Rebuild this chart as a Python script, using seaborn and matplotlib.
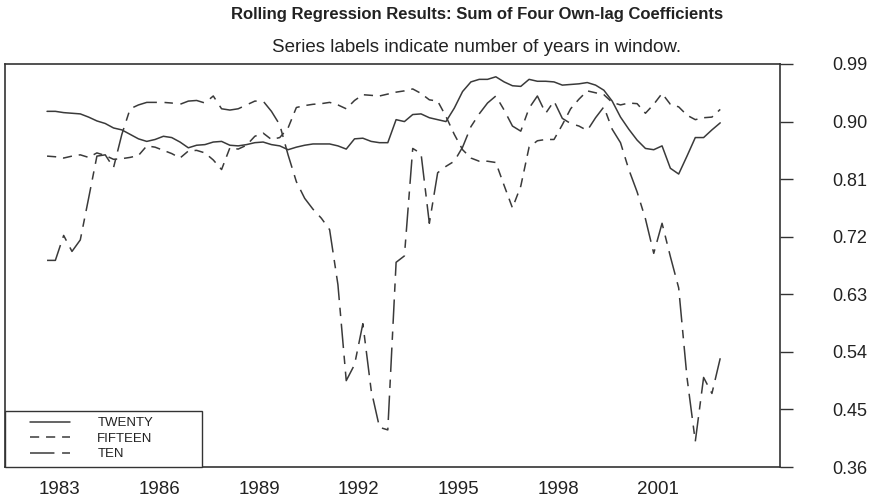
import numpy as np
import pandas as pd
import matplotlib
matplotlib.use('Agg')
import matplotlib.pyplot as plt
import seaborn as sns
from matplotlib.lines import Line2D
from matplotlib.legend_handler import HandlerLine2D

# quarterly observations, 1983Q1 - 2003Q2 (plotted at mid-quarter)
quarters = pd.period_range('1983Q1', '2003Q2', freq='Q')
t = quarters.year + (quarters.quarter - 1) / 4 + 0.125

twenty = [0.916, 0.916, 0.914, 0.913, 0.912, 0.907, 0.901, 0.897, 0.890, 0.887,
          0.880, 0.873, 0.869, 0.872, 0.877, 0.875, 0.868, 0.859, 0.863, 0.864,
          0.868, 0.869, 0.863, 0.862, 0.864, 0.867, 0.868, 0.864, 0.862, 0.856,
          0.860, 0.863, 0.865, 0.865, 0.865, 0.862, 0.857, 0.873, 0.874, 0.869,
          0.867, 0.867, 0.903, 0.900, 0.911, 0.912, 0.906, 0.903, 0.900, 0.921,
          0.947, 0.962, 0.966, 0.966, 0.970, 0.962, 0.956, 0.955, 0.966, 0.963,
          0.963, 0.962, 0.957, 0.958, 0.959, 0.961, 0.957, 0.949, 0.932, 0.907,
          0.888, 0.871, 0.858, 0.856, 0.862, 0.827, 0.818, 0.846, 0.875, 0.875,
          0.887, 0.898]

fifteen = [0.846, 0.845, 0.843, 0.846, 0.848, 0.844, 0.851, 0.847, 0.841, 0.842,
           0.844, 0.847, 0.862, 0.860, 0.855, 0.850, 0.843, 0.854, 0.855, 0.851,
           0.840, 0.825, 0.859, 0.857, 0.863, 0.877, 0.882, 0.872, 0.875, 0.890,
           0.922, 0.925, 0.927, 0.928, 0.930, 0.926, 0.920, 0.933, 0.942, 0.941,
           0.940, 0.943, 0.946, 0.948, 0.951, 0.944, 0.934, 0.932, 0.908, 0.880,
           0.856, 0.843, 0.838, 0.838, 0.836, 0.800, 0.765, 0.799, 0.860, 0.870,
           0.872, 0.872, 0.895, 0.920, 0.935, 0.948, 0.945, 0.942, 0.930, 0.926,
           0.929, 0.928, 0.913, 0.927, 0.944, 0.927, 0.923, 0.910, 0.903, 0.906,
           0.907, 0.919]

ten = [0.683, 0.683, 0.722, 0.697, 0.715, 0.780, 0.846, 0.848, 0.828, 0.880,
       0.920, 0.926, 0.930, 0.930, 0.930, 0.929, 0.927, 0.932, 0.933, 0.929,
       0.940, 0.920, 0.918, 0.920, 0.926, 0.932, 0.932, 0.916, 0.895, 0.848,
       0.806, 0.780, 0.763, 0.749, 0.731, 0.645, 0.495, 0.520, 0.584, 0.480,
       0.422, 0.418, 0.680, 0.690, 0.858, 0.850, 0.741, 0.820, 0.830, 0.838,
       0.860, 0.892, 0.912, 0.929, 0.940, 0.918, 0.893, 0.885, 0.921, 0.940,
       0.913, 0.932, 0.905, 0.897, 0.893, 0.886, 0.906, 0.923, 0.888, 0.867,
       0.825, 0.790, 0.748, 0.694, 0.741, 0.689, 0.640, 0.500, 0.400, 0.500,
       0.475, 0.530]

series_names = ['TWENTY', 'FIFTEEN', 'TEN']
y_ticks = [0.36, 0.45, 0.54, 0.63, 0.72, 0.81, 0.90, 0.99]
year_labels = [1983, 1986, 1989, 1992, 1995, 1998, 2001]

df = pd.DataFrame({'t': t, 'TWENTY': twenty, 'FIFTEEN': fifteen, 'TEN': ten})
df = df.melt('t', var_name='series', value_name='coef')

ink = '#3a3a3a'
dash_map = {'TWENTY': '', 'FIFTEEN': (6, 4.5), 'TEN': (16, 5, 5.5, 5)}

sns.set_style('white')
plt.rcParams['font.family'] = ['Liberation Sans', 'DejaVu Sans']

fig = plt.figure(figsize=(8.75, 5), dpi=100)
ax = fig.add_axes([0.0057, 0.066, 0.886, 0.806])

sns.lineplot(data=df, x='t', y='coef', style='series', style_order=series_names,
             dashes=dash_map, color=ink, linewidth=1.1, legend=False, ax=ax)

ax.set_xlim(1981.86, 2005.18)
ax.set_ylim(0.36, 0.99)
ax.set_xlabel('')
ax.set_ylabel('')

# right-hand value axis
ax.yaxis.tick_right()
ax.set_yticks(y_ticks)
ax.set_yticklabels([f'{v:.2f}' for v in y_ticks])
ax.tick_params(axis='y', which='major', direction='out', length=9.4, width=1.0,
               pad=28, labelsize=13, color='#333333', labelcolor='#222222')

# quarterly tick marks, longer at year starts
ax.set_xticks(np.arange(1983, 2004))
ax.set_xticks(np.arange(1983, 2003.76, 0.25), minor=True)
ax.tick_params(axis='x', which='major', direction='out', length=3.8, width=0.9,
               labelbottom=False, color='#333333')
ax.tick_params(axis='x', which='minor', direction='out', length=2.2, width=0.8,
               color='#333333')

# year labels centred on mid-year
sec = ax.secondary_xaxis('bottom')
sec.set_xticks([y + 0.5 for y in year_labels], labels=[str(y) for y in year_labels])
sec.tick_params(length=0, pad=10, labelsize=13.5, labelcolor='#222222')
sec.spines['bottom'].set_visible(False)

for sp in ax.spines.values():
    sp.set_visible(True)
    sp.set_color('#333333')
    sp.set_linewidth(1.2)

handles = [Line2D([], [], color=ink, lw=1.1, linestyle='-'),
           Line2D([], [], color=ink, lw=1.1, dashes=dash_map['FIFTEEN']),
           Line2D([], [], color=ink, lw=1.1, dashes=dash_map['TEN'])]
leg = ax.legend(handles, series_names, loc='lower left', bbox_to_anchor=(0, 0, 0.254, 1),
                mode='expand', borderaxespad=0, frameon=True, fancybox=False,
                edgecolor='#333333', framealpha=1, fontsize=9.5, handlelength=4.45,
                handletextpad=2.05, labelspacing=0.25, borderpad=0.5,
                handler_map={Line2D: HandlerLine2D(xpad=1.42)})
leg.get_frame().set_linewidth(1.0)
for txt in leg.get_texts():
    txt.set_color('#222222')

fig.text(0.545, 0.97, 'Rolling Regression Results: Sum of Four Own-lag Coefficients',
         ha='center', va='center', fontsize=12, fontweight='bold', color='#222222')
fig.text(0.545, 0.905, 'Series labels indicate number of years in window.',
         ha='center', va='center', fontsize=13.5, color='#222222')

fig.savefig('out.png', dpi=100)
plt.close(fig)
